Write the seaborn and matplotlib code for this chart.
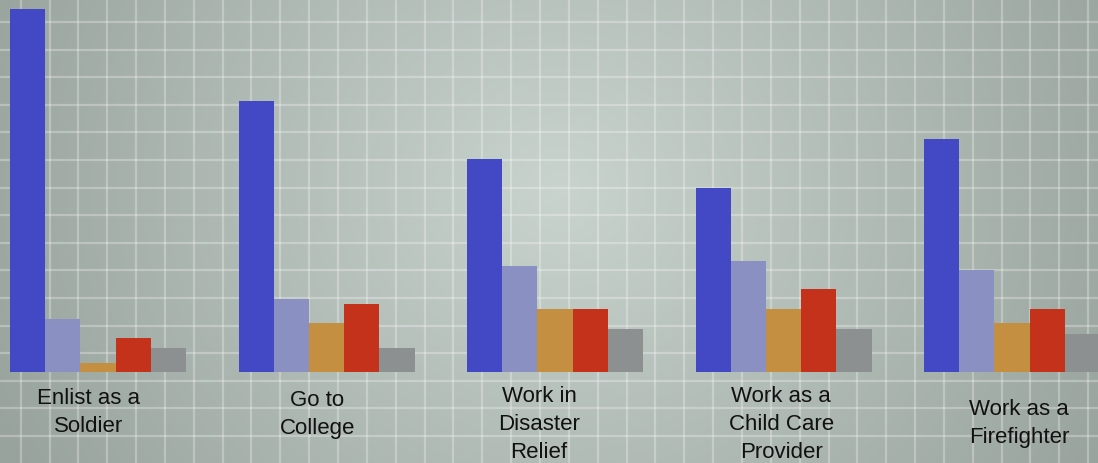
import numpy as np
import pandas as pd
import matplotlib
matplotlib.use('Agg')
import matplotlib.pyplot as plt
import seaborn as sns
from matplotlib.transforms import blended_transform_factory

# Chart data (no y axis shown -> relative heights)
categories = ['Enlist as a\nSoldier', 'Go to\nCollege', 'Work in\nDisaster\nRelief',
              'Work as a\nChild Care\nProvider', 'Work as a\nFirefighter']
series = ['Series 1', 'Series 2', 'Series 3', 'Series 4', 'Series 5']
s1 = [363, 271, 213, 184, 233]
s2 = [53, 73, 106, 111, 102]
s3 = [9, 49, 63, 63, 49]
s4 = [34, 68, 63, 83, 63]
s5 = [24, 24, 43, 43, 38]
colors = ['#4349c4', '#8b90c3', '#c48f41', '#c5321b', '#8d9090']

rows = []
for name, vals in zip(series, [s1, s2, s3, s4, s5]):
    for cat, v in zip(categories, vals):
        rows.append({'category': cat, 'series': name, 'value': v})
df = pd.DataFrame(rows)

W, H = 1098, 464
fig = plt.figure(figsize=(W / 100, H / 100), dpi=100)

# Background: radial gradient with a light grid
bg = fig.add_axes([0, 0, 1, 1])
yy, xx = np.mgrid[0:H, 0:W]
r = np.sqrt(((xx - 560) / 1.0) ** 2 + ((yy - 190) / 0.9) ** 2)
t = np.clip(r / 620, 0, 1)
c_in = np.array([0.79, 0.83, 0.81])
c_out = np.array([0.60, 0.64, 0.62])
img = c_in[None, None, :] * (1 - t[..., None]) + c_out[None, None, :] * t[..., None]
bg.imshow(img, extent=[0, W, H, 0], aspect='auto')
for x in np.arange(20.7, W, 28.85):
    bg.axvline(x, color='white', alpha=0.28, lw=1.6)
for y in np.arange(23.0, H, 27.6):
    bg.axhline(y, color='white', alpha=0.28, lw=1.6)
bg.set_xlim(0, W)
bg.set_ylim(H, 0)
bg.axis('off')

# Bars
base = 91 / H
ax = fig.add_axes([0, base, 1, 1 - base])
ax.patch.set_alpha(0)
sns.barplot(data=df, x='category', y='value', hue='series', palette=colors,
            width=0.77, gap=0, linewidth=0, saturation=1, legend=False, ax=ax)
ax.set_xlim(-0.429, 4.376)
ax.set_ylim(0, 373)
ax.axis('off')

# Category labels
trans = blended_transform_factory(ax.transData, fig.transFigure)
label_shift = [-0.04, -0.04, -0.07, -0.01, 0.03]
label_top = [388, 390, 386, 386, 399]
for i, cat in enumerate(categories):
    ax.text(i + label_shift[i], 1 - label_top[i] / H, cat, transform=trans,
            ha='center', va='top', fontsize=16, color='#111111',
            family='Liberation Sans', linespacing=1.45, multialignment='center')

fig.savefig('out.png', dpi=100)
